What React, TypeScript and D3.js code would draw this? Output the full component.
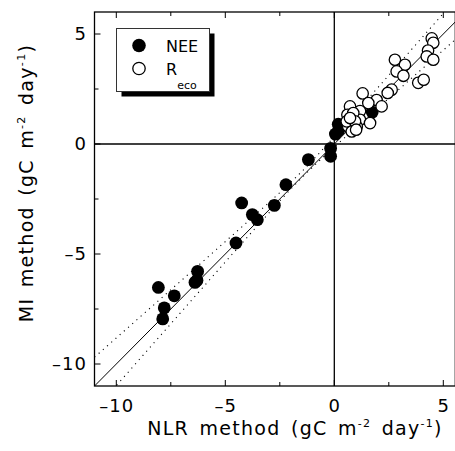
import React from "react";
import * as d3 from "d3";

const neeX = [-1.19, -0.17, -0.17, -2.22, -4.25, -2.75, -3.76, -3.53, -4.51, -6.27, -6.39, -6.3, -8.07, -7.34, -7.8, -7.87, 0.18, 0.05, 0.2, 1.74];
const neeY = [-0.71, -0.2, -0.56, -1.85, -2.68, -2.79, -3.21, -3.44, -4.5, -5.79, -6.29, -6.2, -6.52, -6.9, -7.45, -7.95, 0.9, 0.45, 0.62, 1.45];

const recoX = [4.47, 4.54, 4.3, 4.24, 4.54, 2.78, 3.24, 2.86, 3.17, 3.85, 4.1, 2.63, 2.45, 1.94, 1.3, 1.56, 2.17, 0.72, 1.18, 0.6, 0.8, 1.18, 1.64, 0.64, 1.03, 0.8, 0.57, 0.87, 0.95, 0.72, 1.0];
const recoY = [4.8, 4.6, 4.25, 3.98, 3.83, 3.83, 3.6, 3.3, 3.1, 2.78, 2.92, 2.47, 2.32, 2.0, 2.3, 1.86, 1.71, 1.71, 1.5, 1.33, 1.1, 1.1, 0.95, 0.8, 0.8, 0.57, 1.03, 1.41, 1.03, 1.18, 0.65];

const xTicksMajor = [-10, -5, 0, 5];
const xTicksMinor = [-7.5, -2.5, 2.5];
const yTicksMajor = [-10, -5, 0, 5];
const yTicksMinor = [-7.5, -2.5, 2.5];
const xDomain = [-11, 5.55];
const yDomain = [-11, 6];

// confidence band parameters (center, a, b, offset)
const bandCenter = [-1.5];
const bandA = [0.02];
const bandB = [0.016];
const bandOffset = [0.1];

const legendLabels = ["NEE", "R"];

const fmt = (t: number) => (t < 0 ? "\u2013" + String(-t) : String(t));

export default function App() {
  const W = 455, H = 451;
  const L = 94.5, R = 455.3, T = 12, B = 386;
  const x = d3.scaleLinear().domain(xDomain).range([L, R]);
  const y = d3.scaleLinear().domain(yDomain).range([B, T]);
  const font = "'DejaVu Sans', Verdana, sans-serif";

  const xs = d3.range(200).map((i) => xDomain[0] + (i / 199) * (xDomain[1] - xDomain[0]));
  const h = (v: number) => Math.sqrt(bandA[0] + bandB[0] * (v - bandCenter[0]) ** 2);
  const line = d3.line<[number, number]>().x((d) => x(d[0])).y((d) => y(d[1]));
  const upper = line(xs.map((v) => [v, v + bandOffset[0] + h(v)] as [number, number]));
  const lower = line(xs.map((v) => [v, v + bandOffset[0] - h(v)] as [number, number]));

  const titleStyle = { letterSpacing: "1.3px", wordSpacing: "3px" } as React.CSSProperties;

  return (
    <svg width={W} height={H} style={{ position: "absolute", left: 0, top: 0, background: "#fff" }} fontFamily={font}>
      <defs>
        <clipPath id="plot">
          <rect x={L} y={T} width={R - L} height={B - T} />
        </clipPath>
      </defs>
      <g clipPath="url(#plot)">
        <line x1={x(xDomain[0])} y1={y(xDomain[0])} x2={x(xDomain[1])} y2={y(xDomain[1])} stroke="#000" strokeWidth={1} />
        <path d={upper || ""} fill="none" stroke="#000" strokeWidth={1.1} strokeDasharray="1.1,4.5" />
        <path d={lower || ""} fill="none" stroke="#000" strokeWidth={1.1} strokeDasharray="1.1,4.5" />
        <line x1={L} x2={R} y1={y(0)} y2={y(0)} stroke="#000" strokeWidth={1.3} />
        <line x1={x(0)} x2={x(0)} y1={T} y2={B} stroke="#000" strokeWidth={1.3} />
        {neeX.map((v, i) => (
          <circle key={"n" + i} cx={x(v)} cy={y(neeY[i])} r={6.4} fill="#000" />
        ))}
        {recoX.map((v, i) => (
          <circle key={"r" + i} cx={x(v)} cy={y(recoY[i])} r={5.7} fill="#fff" stroke="#000" strokeWidth={1.3} />
        ))}
      </g>
      <rect x={L} y={T} width={R - L} height={B - T} fill="none" stroke="#000" strokeWidth={1.3} />
      {xTicksMajor.map((t) => (
        <g key={"xt" + t}>
          <line x1={x(t)} x2={x(t)} y1={B} y2={B - 6} stroke="#000" />
          <line x1={x(t)} x2={x(t)} y1={T} y2={T + 6} stroke="#000" />
          <text x={x(t) + 0.5} y={412} fontSize={18} textAnchor="middle" style={{ letterSpacing: "1px" }}>{fmt(t)}</text>
        </g>
      ))}
      {xTicksMinor.map((t) => (
        <g key={"xm" + t}>
          <line x1={x(t)} x2={x(t)} y1={B} y2={B - 4} stroke="#000" />
          <line x1={x(t)} x2={x(t)} y1={T} y2={T + 4} stroke="#000" />
        </g>
      ))}
      {yTicksMajor.map((t) => (
        <g key={"yt" + t}>
          <line x1={L} x2={L + 6} y1={y(t)} y2={y(t)} stroke="#000" />
          <text x={87} y={y(t)} dy="0.36em" fontSize={18} textAnchor="end" style={{ letterSpacing: "1px" }}>{fmt(t)}</text>
        </g>
      ))}
      {yTicksMinor.map((t) => (
        <line key={"ym" + t} x1={L} x2={L + 4} y1={y(t)} y2={y(t)} stroke="#000" />
      ))}
      {/* legend */}
      <rect x={121.5} y={33.5} width={93} height={63} fill="#000" />
      <rect x={116.5} y={28.5} width={93} height={63} fill="#fff" stroke="#333" strokeWidth={1} />
      <circle cx={139} cy={45.5} r={6.8} fill="#000" />
      <circle cx={139} cy={68.5} r={6.2} fill="#fff" stroke="#000" strokeWidth={1.3} />
      <text x={166} y={52} fontSize={16}>{legendLabels[0]}</text>
      <text x={166} y={75} fontSize={16}>
        {legendLabels[1]}
        <tspan fontSize={11} dy={14}>eco</tspan>
      </text>
      {/* axis titles */}
      <text x={295} y={435} fontSize={19} textAnchor="middle" style={titleStyle}>
        NLR method (gC m<tspan fontSize={11} dy={-8}>-2</tspan>
        <tspan dy={8}> day</tspan>
        <tspan fontSize={11} dy={-8}>-1</tspan>
        <tspan dy={8}>)</tspan>
      </text>
      <text transform="translate(33,183) rotate(-90)" fontSize={19} textAnchor="middle" style={titleStyle}>
        MI method (gC m<tspan fontSize={11} dy={-8}>-2</tspan>
        <tspan dy={8}> day</tspan>
        <tspan fontSize={11} dy={-8}>-1</tspan>
        <tspan dy={8}>)</tspan>
      </text>
    </svg>
  );
}
